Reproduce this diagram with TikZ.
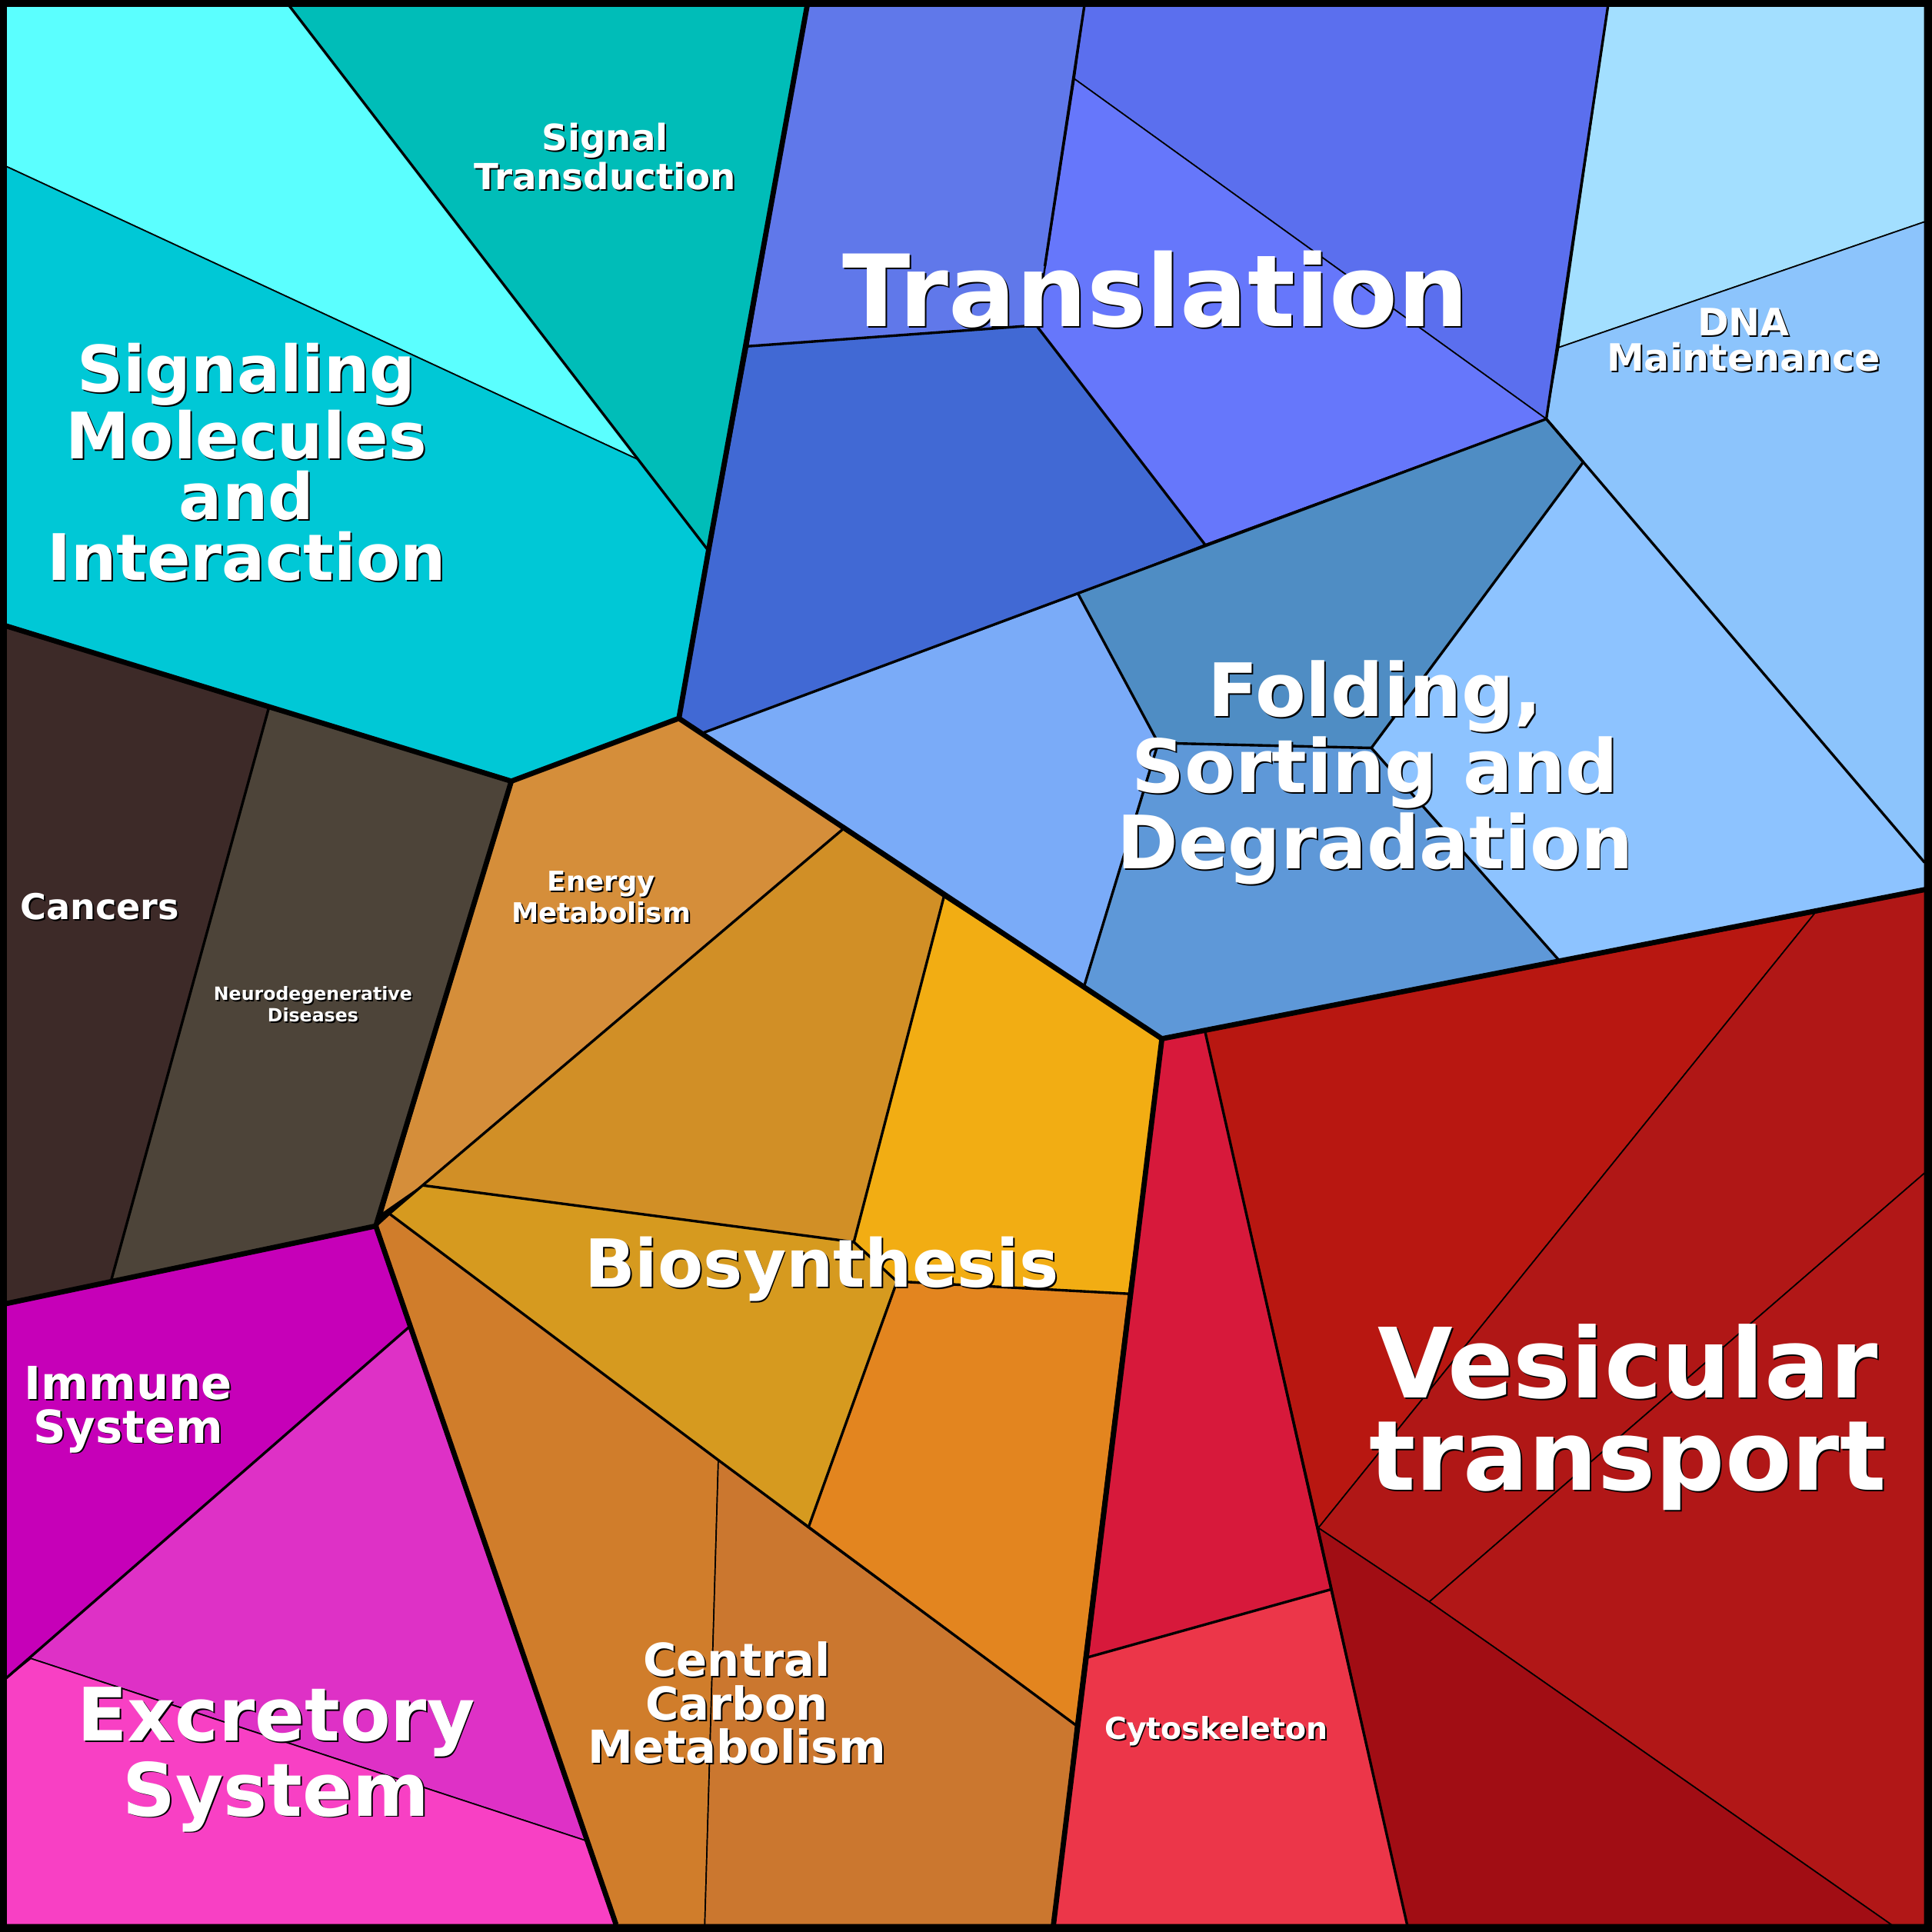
\documentclass[tikz,border=0pt]{standalone}
\usepackage{fontspec}
\setmainfont{DejaVu Sans}
\tikzset{
  cell/.style={draw=black, line width=0.3pt},
  edge/.style={draw=black, line width=0.6pt, line join=round},
  border/.style={draw=black, line width=1.2pt, line join=round},
  lbl/.style={text=white, font=\bfseries, align=center, inner sep=0pt}
}
% label with a dark drop shadow
\newcommand{\cellname}[4]{%
  \node[lbl, text=black, font=\fontsize{#2}{0.95\dimexpr#2\relax}\bfseries] (#1s) at ($(#3)+(1.2,1.2)$) {#4};
  \node[lbl, font=\fontsize{#2}{0.95\dimexpr#2\relax}\bfseries] (#1) at (#3) {#4};
}
\usetikzlibrary{calc}
\begin{document}
\begin{tikzpicture}[x=0.01cm, y=-0.01cm]
\useasboundingbox (0,0) rectangle (1568,1568);
\fill[black] (0,0) rectangle (1568,1568);
% Signaling
\fill[cell, fill={rgb,255:red,91;green,255;blue,255}] (5,5)--(235,5)--(518,373)--(5,135)--cycle;
\fill[cell, fill={rgb,255:red,0;green,189;blue,184}] (235,5)--(655,5)--(575,447)--(518,373)--cycle;
\fill[cell, fill={rgb,255:red,0;green,200;blue,214}] (5,135)--(518,373)--(575,447)--(551,583)--(415,634)--(5,508)--cycle;
% Translation
\fill[cell, fill={rgb,255:red,96;green,120;blue,234}] (607,281)--(655,5)--(880,5)--(848,216)--(841,264)--cycle;
\fill[cell, fill={rgb,255:red,91;green,111;blue,238}] (880,5)--(1305,5)--(1255,340)--(872,64)--cycle;
\fill[cell, fill={rgb,255:red,102;green,119;blue,251}] (872,64)--(1255,340)--(978,442)--(841,264)--cycle;
\fill[cell, fill={rgb,255:red,65;green,105;blue,212}] (607,281)--(841,264)--(978,442)--(875,482)--(570,595)--(551,583)--cycle;
% Folding
\fill[cell, fill={rgb,255:red,122;green,171;blue,248}] (551,583)--(570,595)--(875,482)--(940,603)--(880,800)--cycle;
\fill[cell, fill={rgb,255:red,79;green,141;blue,196}] (875,482)--(978,442)--(1255,340)--(1285,375)--(1113,607)--(940,603)--cycle;
\fill[cell, fill={rgb,255:red,141;green,195;blue,255}] (1285,375)--(1562,700)--(1562,722)--(1265,779)--(1113,607)--cycle;
\fill[cell, fill={rgb,255:red,94;green,152;blue,216}] (940,603)--(1113,607)--(1265,779)--(943,843)--(880,800)--cycle;
% DNA
\fill[cell, fill={rgb,255:red,163;green,223;blue,255}] (1305,5)--(1562,5)--(1562,180)--(1265,282)--cycle;
\fill[cell, fill={rgb,255:red,140;green,196;blue,252}] (1265,282)--(1562,180)--(1562,700)--(1285,375)--(1255,340)--cycle;
% Metabolism
\fill[cell, fill={rgb,255:red,213;green,142;blue,58}] (415,634)--(551,583)--(684,673)--(343,962)--(310,985)--cycle;
\fill[cell, fill={rgb,255:red,209;green,143;blue,38}] (684,673)--(766,728)--(693,1008)--(343,962)--cycle;
\fill[cell, fill={rgb,255:red,242;green,173;blue,19}] (766,728)--(943,843)--(916,1050)--(728,1040)--(693,1008)--cycle;
\fill[cell, fill={rgb,255:red,214;green,154;blue,31}] (343,962)--(693,1008)--(728,1040)--(656,1240)--(583,1185)--(316,985)--cycle;
\fill[cell, fill={rgb,255:red,227;green,133;blue,31}] (728,1040)--(916,1050)--(873,1400)--(656,1240)--cycle;
\fill[cell, fill={rgb,255:red,208;green,125;blue,43}] (305,995)--(316,985)--(583,1185)--(572,1562)--(500,1562)--cycle;
\fill[cell, fill={rgb,255:red,203;green,119;blue,47}] (583,1185)--(656,1240)--(873,1400)--(855,1562)--(572,1562)--cycle;
% Diseases
\fill[cell, fill={rgb,255:red,61;green,42;blue,40}] (5,508)--(218,575)--(90,1040)--(5,1058)--cycle;
\fill[cell, fill={rgb,255:red,77;green,68;blue,57}] (218,575)--(415,634)--(305,995)--(90,1040)--cycle;
% Immune / Excretory
\fill[cell, fill={rgb,255:red,198;green,0;blue,184}] (5,1058)--(305,995)--(332,1077)--(5,1362)--cycle;
\fill[cell, fill={rgb,255:red,222;green,49;blue,198}] (5,1362)--(332,1077)--(476,1494)--(25,1346)--cycle;
\fill[cell, fill={rgb,255:red,248;green,64;blue,196}] (5,1362)--(25,1346)--(476,1494)--(500,1562)--(5,1562)--cycle;
% Cytoskeleton
\fill[cell, fill={rgb,255:red,215;green,25;blue,59}] (943,843)--(978,837)--(1080,1290)--(883,1345)--cycle;
\fill[cell, fill={rgb,255:red,236;green,54;blue,73}] (883,1345)--(1080,1290)--(1142,1562)--(855,1562)--cycle;
% Vesicular transport
\fill[cell, fill={rgb,255:red,184;green,23;blue,17}] (978,837)--(1473,741)--(1070,1240)--cycle;
\fill[cell, fill={rgb,255:red,176;green,23;blue,22}] (1473,741)--(1562,722)--(1562,952)--(1160,1300)--(1070,1240)--cycle;
\fill[cell, fill={rgb,255:red,177;green,23;blue,23}] (1562,952)--(1562,1562)--(1535,1562)--(1160,1300)--cycle;
\fill[cell, fill={rgb,255:red,161;green,13;blue,20}] (1070,1240)--(1160,1300)--(1535,1562)--(1142,1562)--cycle;
% middle-level edges
\draw[edge] (235,5)--(518,373)--(575,447);
\draw[edge] (607,281)--(841,264)--(978,442);
\draw[edge] (880,5)--(848,216);
\draw[edge] (875,482)--(940,603)--(1113,607)--(1285,375)--(1255,340);
\draw[edge] (1113,607)--(1265,779);
\draw[edge] (940,603)--(880,800);
\draw[edge] (1305,5)--(1255,340)--(1285,375)--(1562,700);
\draw[edge] (1255,340)--(570,595)--(551,583);
\draw[edge] (218,575)--(90,1040);
\draw[edge] (332,1077)--(5,1362);
\draw[edge] (684,673)--(343,962)--(316,985)--(583,1185);
\draw[edge] (343,962)--(693,1008)--(766,728);
\draw[edge] (693,1008)--(728,1040)--(916,1050);
\draw[edge] (728,1040)--(656,1240);
\draw[edge] (316,985)--(305,995);
\draw[edge] (583,1185)--(873,1400);
\draw[edge] (978,837)--(1142,1562);
\draw[edge] (883,1345)--(1080,1290);
% top-level borders
\draw[border] (655,5)--(575,447)--(551,583)--(415,634)--(5,508);
\draw[border] (415,634)--(305,995)--(5,1058);
\draw[border] (305,995)--(500,1562);
\draw[border] (551,583)--(943,843)--(1562,722);
\draw[border] (943,843)--(855,1562);
\draw[black, line width=1.8pt] (2.5,2.5) rectangle (1565.5,1565.5);
% labels
\cellname{sig}{14.8pt}{200,375}{Signaling\\Molecules\\and\\Interaction}
\cellname{st}{8.3pt}{491,127}{Signal\\Transduction}
\cellname{tr}{23pt}{938,235}{Translation}
\cellname{dna}{8.7pt}{1415,276}{DNA\\Maintenance}
\cellname{fo}{17pt}{1116,627}{Folding,\\Sorting and\\Degradation}
\cellname{ca}{8.2pt}{81,736}{Cancers}
\cellname{nd}{4.2pt}{254,815}{Neurodegenerative\\Diseases}
\cellname{en}{6.3pt}{488,728}{Energy\\Metabolism}
\cellname{bi}{15.3pt}{667,1030}{Biosynthesis}
\cellname{im}{10.5pt}{104,1144}{Immune\\System}
\cellname{ex}{17pt}{224,1428}{Excretory\\System}
\cellname{cc}{10.5pt}{598,1382}{Central\\Carbon\\Metabolism}
\cellname{cy}{7pt}{987,1405}{Cytoskeleton}
\cellname{ve}{22.4pt}{1321,1150}{Vesicular\\transport}
\end{tikzpicture}
\end{document}
